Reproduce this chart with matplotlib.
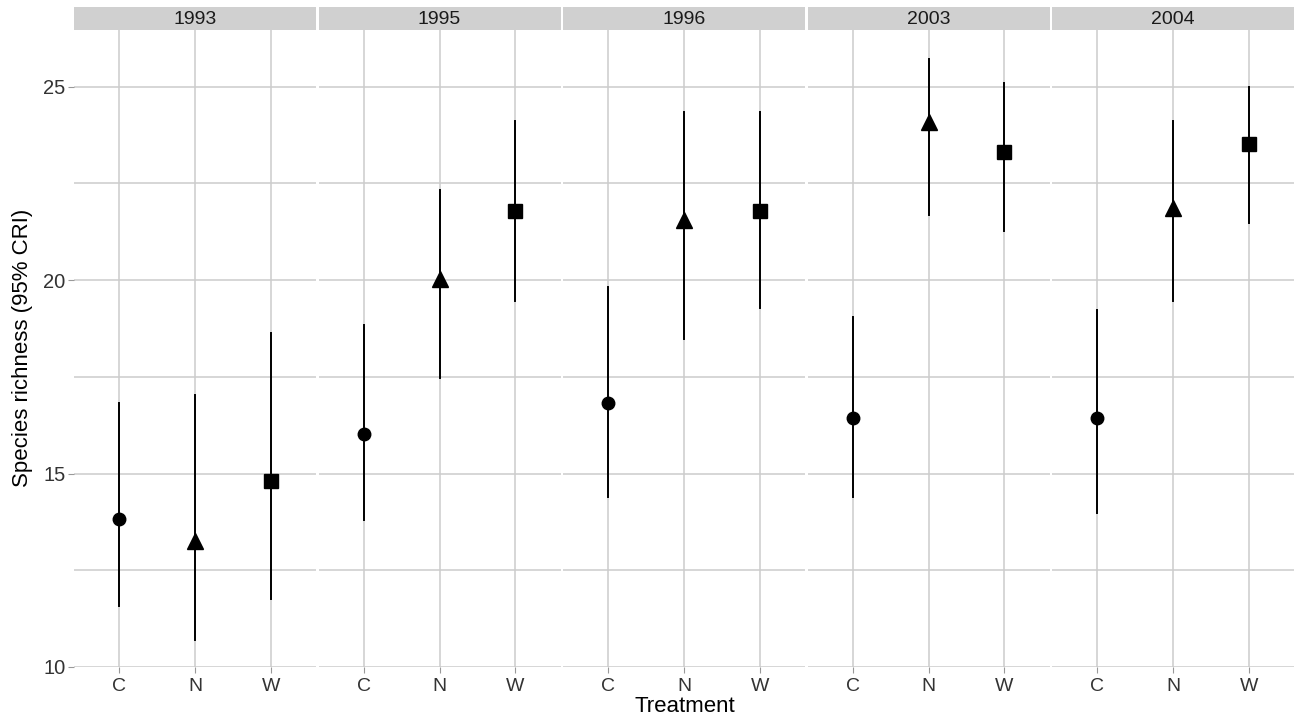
import matplotlib
matplotlib.use("Agg")
import matplotlib.pyplot as plt
import numpy as np

plt.rcParams["font.family"] = ["Liberation Sans", "DejaVu Sans"]

years = ["1993", "1995", "1996", "2003", "2004"]
treatments = ["C", "N", "W"]
markers = ["o", "^", "s"]
means = [
    [13.83, 13.26, 14.81],
    [16.03, 20.03, 21.79],
    [16.83, 21.56, 21.79],
    [16.44, 24.07, 23.32],
    [16.44, 21.87, 23.52],
]
lower = [
    [11.58, 10.70, 11.76],
    [13.80, 17.47, 19.46],
    [14.40, 18.48, 19.28],
    [14.40, 21.69, 21.27],
    [13.98, 19.46, 21.48],
]
upper = [
    [16.83, 17.03, 18.64],
    [18.84, 22.33, 24.12],
    [19.83, 24.33, 24.33],
    [19.05, 25.70, 25.10],
    [19.23, 24.12, 25.00],
]
yticks = [10, 15, 20, 25]
minor_ticks = [12.5, 17.5, 22.5]

W, H = 1296, 719
fig = plt.figure(figsize=(W / 100, H / 100), dpi=100)
fig.patch.set_facecolor("white")

left0 = 74
pw = 242
gap = 2.5
ptop = 30
pbot = 667
strip_h = 23
grid_c = "#cccccc"

for i, yr in enumerate(years):
    x0 = left0 + i * (pw + gap)
    ax = fig.add_axes([x0 / W, 1 - pbot / H, pw / W, (pbot - ptop) / H])
    ax.set_xlim(0.4, 3.6)
    ax.set_ylim(10, 26.46)
    for s in ax.spines.values():
        s.set_visible(False)
    for y in yticks:
        ax.axhline(y, color=grid_c, lw=1.1, zorder=0)
    for y in minor_ticks:
        ax.axhline(y, color=grid_c, lw=1.1, zorder=0)
    xs = np.arange(1, 4)
    for x in xs:
        ax.axvline(x, color=grid_c, lw=1.1, zorder=0)
    for j in range(3):
        ax.plot([xs[j], xs[j]], [lower[i][j], upper[i][j]], color="black", lw=1.4, zorder=2)
        ms = {"o": 9, "^": 11, "s": 10}[markers[j]]
        ax.plot(xs[j], means[i][j], marker=markers[j], color="black", ms=ms, zorder=3, ls="none")
    ax.set_xticks(xs)
    ax.set_xticklabels(treatments, fontsize=14, color="#333333")
    ax.tick_params(axis="x", length=4, color="#999999", pad=4)
    if i == 0:
        ax.set_yticks(yticks)
        ax.set_yticklabels([str(t) for t in yticks], fontsize=14.5, color="#333333")
        ax.tick_params(axis="y", length=4, color="#999999", pad=2)
    else:
        ax.set_yticks([])
    # strip
    sax = fig.add_axes([x0 / W, 1 - (ptop - 0.5) / H, pw / W, strip_h / H])
    sax.set_facecolor("#d0d0d0")
    sax.set_xticks([]); sax.set_yticks([])
    for s in sax.spines.values():
        s.set_visible(False)
    sax.text(0.5, 0.42, yr, ha="center", va="center", fontsize=14, color="#1a1a1a", transform=sax.transAxes)

fig.text(685 / W, 1 - 706 / H, "Treatment", ha="center", va="center", fontsize=16, color="black")
fig.text(23 / W, 1 - 348 / H, "Species richness (95% CRI)", ha="center", va="center", rotation=90, fontsize=16, color="black")

fig.savefig("out.png", dpi=100)
